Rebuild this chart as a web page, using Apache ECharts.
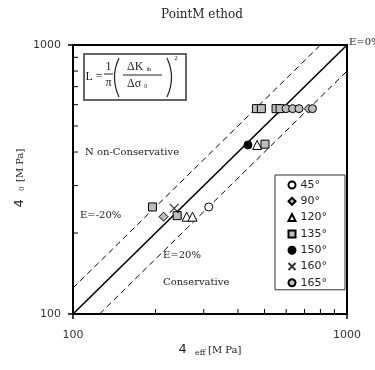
<!DOCTYPE html>
<html><head><meta charset="utf-8">
<script src="https://cdn.jsdelivr.net/npm/echarts@6/dist/echarts.min.js"></script>
<style>html,body{margin:0;padding:0;background:#fff}#c{width:375px;height:370px}</style>
</head><body><div id="c"></div>
<script>
// ---- data ----
const majorTicks = [100, 1000];
const minorTicks = [200, 300, 400, 500, 600, 700, 800, 900];
const s45  = [[313, 250]];
const s90  = [[214, 230], [724, 580]];
const s120 = [[260, 230], [273, 230], [470, 425]];
const s135 = [[195, 250], [240, 232], [502, 428], [467, 580], [487, 580], [551, 580], [570, 580]];
const s150 = [[435, 425]];
const s160 = [[234, 247]];
const s165 = [[599, 580], [633, 580], [668, 580], [748, 580]];
const lineE0   = [[100, 100], [1000, 1000]];
const lineEm20 = [[100, 125], [800, 1000]];
const lineEp20 = [[125, 100], [1000, 800]];
const seriesNames = ['45°', '90°', '120°', '135°', '150°', '160°', '165°'];

// ---- chart ----
const chart = echarts.init(document.getElementById('c'), null, {renderer: 'canvas'});
const sans = 'DejaVu Sans';
const gray = '#bdbdbd';
const txtFont = '"DejaVu Serif"';
const mk = (name, data, symbol, fill, size) => ({
  name, type: 'scatter', data, symbol, symbolSize: size || 8,
  itemStyle: {color: fill, borderColor: '#000', borderWidth: 1, opacity: 1},
  emphasis: {disabled: true}, z: 5
});
const ln = (data, type, w) => ({
  type: 'line', data, symbol: 'none', silent: true, z: 3,
  lineStyle: {color: '#000', width: w, type: type}
});
const axisCommon = {type: 'log', logBase: 10, min: 100, max: 1000, splitLine: {show: false}};
const minorTickSeries = (isX) => ({
  type: 'custom', silent: true, clip: false, z: 6,
  data: minorTicks.map(v => isX ? [v, 100] : [100, v]),
  renderItem: (params, api) => {
    const p = api.coord([api.value(0), api.value(1)]);
    return {type: 'line', shape: isX ? {x1: p[0], y1: p[1], x2: p[0], y2: p[1] - 5} : {x1: p[0], y1: p[1], x2: p[0] + 5, y2: p[1]},
      style: {stroke: '#000', lineWidth: 1}};
  }
});
chart.setOption({
  animation: false,
  grid: {left: 73, top: 45, width: 274, height: 269, show: true, borderColor: '#000', borderWidth: 2, backgroundColor: 'transparent'},
  xAxis: Object.assign({}, axisCommon, {
    axisLine: {lineStyle: {color: '#000', width: 2}},
    axisTick: {customValues: majorTicks, inside: false, length: 5, lineStyle: {color: '#000', width: 1.5}},
    axisLabel: {customValues: majorTicks, margin: 16, fontFamily: sans, fontSize: 11, color: '#333', formatter: v => String(v)}
  }),
  yAxis: Object.assign({}, axisCommon, {
    axisLine: {lineStyle: {color: '#000', width: 2}},
    axisTick: {customValues: majorTicks, inside: false, length: 5, lineStyle: {color: '#000', width: 1.5}},
    axisLabel: {customValues: majorTicks, margin: 12, fontFamily: sans, fontSize: 11, color: '#333', formatter: v => String(v)}
  }),
  legend: {
    orient: 'vertical', left: 275, top: 175,
    data: seriesNames,
    itemWidth: 7, itemHeight: 7, itemGap: 4.3,
    padding: [4, 18, 1, 11],
    borderColor: '#333', borderWidth: 1, backgroundColor: '#fff',
    textStyle: {fontFamily: sans, fontSize: 11, color: '#222', lineHeight: 12},
    selectedMode: false
  },
  series: [
    ln(lineE0, 'solid', 1.6),
    ln(lineEm20, [6, 4], 1),
    ln(lineEp20, [6, 4], 1),
    mk('45°', s45, 'circle', '#fff', 8),
    mk('90°', s90, 'diamond', gray, 9),
    mk('120°', s120, 'triangle', '#fff', 9),
    mk('135°', s135, 'rect', gray, 8),
    mk('150°', s150, 'circle', '#000', 8),
    Object.assign(mk('160°', s160, 'path://M0,0L10,10M10,0L0,10', 'none', 9), {itemStyle: {color: 'none', borderColor: '#000', borderWidth: 1.2}}),
    mk('165°', s165, 'circle', gray, 8),
    minorTickSeries(true),
    minorTickSeries(false)
  ],
  graphic: [
    {type: 'text', x: 202, y: 15, style: {text: 'PointM ethod', font: '12px ' + txtFont, fill: '#222', align: 'center', verticalAlign: 'middle'}},
    {type: 'text', x: 349, y: 42, style: {text: 'E=0%', font: '10px ' + txtFont, fill: '#222', align: 'left', verticalAlign: 'middle'}},
    {type: 'text', x: 80, y: 215, style: {text: 'E=-20%', font: '10px ' + txtFont, fill: '#222', align: 'left', verticalAlign: 'middle'}},
    {type: 'text', x: 163, y: 255, style: {text: 'E=20%', font: '10px ' + txtFont, fill: '#222', align: 'left', verticalAlign: 'middle'}},
    {type: 'text', x: 85, y: 152, style: {text: 'N on-Conservative', font: '10px ' + txtFont, fill: '#222', align: 'left', verticalAlign: 'middle'}},
    {type: 'text', x: 163, y: 282, style: {text: 'Conservative', font: '10px ' + txtFont, fill: '#222', align: 'left', verticalAlign: 'middle'}},
    // formula box
    {type: 'rect', shape: {x: 84, y: 54, width: 102, height: 46}, style: {fill: '#fff', stroke: '#333', lineWidth: 1.5}, z: 10},
    {type: 'text', x: 94, y: 77, z: 11, style: {text: 'L =', font: '12px "Liberation Serif"', fill: '#222', align: 'center', verticalAlign: 'middle'}},
    {type: 'text', x: 108.5, y: 67, z: 11, style: {text: '1', font: '12px "Liberation Serif"', fill: '#222', align: 'center', verticalAlign: 'middle'}},
    {type: 'line', z: 11, shape: {x1: 104, y1: 74, x2: 113, y2: 74}, style: {stroke: '#222', lineWidth: 1}},
    {type: 'text', x: 108.5, y: 83, z: 11, style: {text: 'π', font: '12px "Liberation Serif"', fill: '#222', align: 'center', verticalAlign: 'middle'}},
    {type: 'bezierCurve', z: 11, shape: {x1: 119, y1: 58, x2: 119, y2: 97, cpx1: 110, cpy1: 77.5}, style: {stroke: '#222', lineWidth: 1.2, fill: 'none'}},
    {type: 'bezierCurve', z: 11, shape: {x1: 167, y1: 58, x2: 167, y2: 97, cpx1: 176, cpy1: 77.5}, style: {stroke: '#222', lineWidth: 1.2, fill: 'none'}},
    {type: 'text', x: 127, y: 67, z: 11, style: {text: '{a|ΔK }{s|th}', rich: {a: {font: '12px "Liberation Serif"', fill: '#222'}, s: {font: '6px "Liberation Serif"', fill: '#222', padding: [4, 0, 0, 0]}}, align: 'left', verticalAlign: 'middle'}},
    {type: 'line', z: 11, shape: {x1: 123, y1: 75, x2: 162, y2: 75}, style: {stroke: '#222', lineWidth: 1}},
    {type: 'text', x: 127, y: 84, z: 11, style: {text: '{a|Δσ }{s|0}', rich: {a: {font: '12px "Liberation Serif"', fill: '#222'}, s: {font: '6px "Liberation Serif"', fill: '#222', padding: [4, 0, 0, 0]}}, align: 'left', verticalAlign: 'middle'}},
    {type: 'text', x: 176, y: 58, z: 11, style: {text: '2', font: '7px "Liberation Serif"', fill: '#222', align: 'center', verticalAlign: 'middle'}},
    // axis titles
    {type: 'text', x: 210, y: 350, style: {text: '{a|4  }{s|eff }{b|[M Pa]}', rich: {a: {font: '13px "DejaVu Sans"', fill: '#222'}, s: {font: '8px ' + txtFont, fill: '#222', padding: [5, 0, 0, 0]}, b: {font: '10px ' + txtFont, fill: '#222'}}, align: 'center', verticalAlign: 'middle'}},
    {type: 'text', x: 20, y: 178, rotation: Math.PI / 2, style: {text: '{a|4  }{s|0  }{b|[M Pa]}', rich: {a: {font: '13px "DejaVu Sans"', fill: '#222'}, s: {font: '7px ' + txtFont, fill: '#222', padding: [5, 0, 0, 0]}, b: {font: '10px ' + txtFont, fill: '#222'}}, align: 'center', verticalAlign: 'middle'}}
  ]
});
</script>
</body></html>
